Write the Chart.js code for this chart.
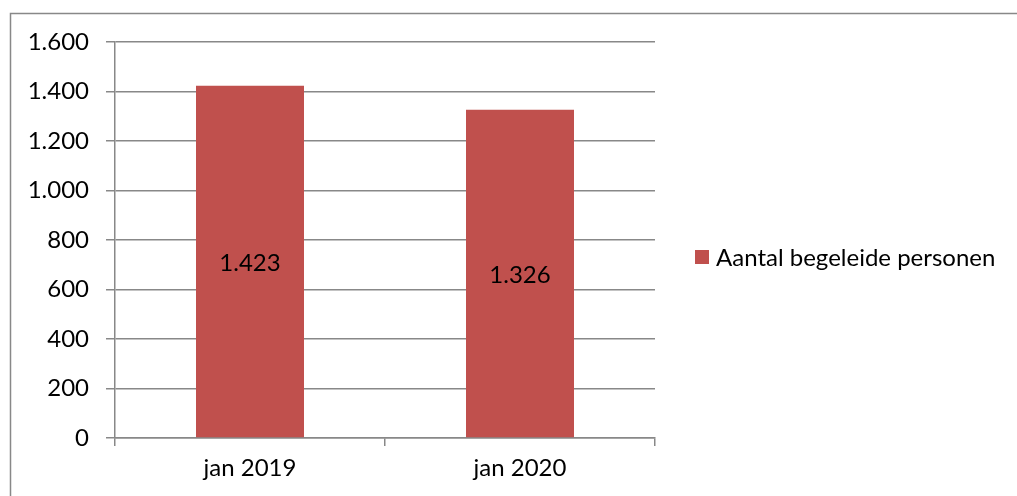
<!DOCTYPE html>
<html>
<head>
<meta charset="utf-8">
<script src="https://cdn.jsdelivr.net/npm/chart.js@4/dist/chart.umd.min.js"></script>
<style>
  html, body { margin: 0; padding: 0; background: #fff; }
  #wrap { position: relative; width: 1017px; height: 496px; }
</style>
</head>
<body>
<div id="wrap"><canvas id="chart" width="1017" height="496"></canvas></div>
<script>
// Data
const categories = ["jan 2019", "jan 2020"];
const seriesLabel = "Aantal begeleide personen";
const personen = [1423, 1326];
const yTicks = [0, 200, 400, 600, 800, 1000, 1200, 1400, 1600];

const FONT = "Lato, 'Open Sans', sans-serif";
const FONT_SIZE = 24;
const BAR_COLOR = "#C0504D";
const LINE_COLOR = "#888888";

// Dutch thousands separator: 1600 -> "1.600"
function fmt(v) {
    return String(v).replace(/\B(?=(\d{3})+(?!\d))/g, ".");
}

// Frame around the whole chart
const framePlugin = {
    id: "frame",
    beforeDraw(chart) {
        const ctx = chart.ctx;
        ctx.save();
        ctx.strokeStyle = LINE_COLOR;
        ctx.lineWidth = 1.5;
        ctx.strokeRect(10.5, 13.5, 1100, 600);
        ctx.restore();
    },
};

// Values written in the middle of each bar
const valueLabels = {
    id: "valueLabels",
    afterDatasetsDraw(chart) {
        const ctx = chart.ctx;
        const meta = chart.getDatasetMeta(0);
        ctx.save();
        ctx.font = FONT_SIZE + "px " + FONT;
        ctx.fillStyle = "#000";
        ctx.textAlign = "center";
        ctx.textBaseline = "middle";
        meta.data.forEach((bar, i) => {
            const v = chart.data.datasets[0].data[i];
            ctx.fillText(fmt(v), bar.x, (bar.y + bar.base) / 2 + 2);
        });
        ctx.restore();
    },
};

// Legend on the right
const sideLegend = {
    id: "sideLegend",
    afterDraw(chart) {
        const ctx = chart.ctx;
        const ds = chart.data.datasets[0];
        const x = chart.chartArea.right + 40;
        const y = 257;
        ctx.save();
        ctx.fillStyle = ds.backgroundColor;
        ctx.fillRect(x, y - 7, 14, 14);
        ctx.font = FONT_SIZE + "px " + FONT;
        ctx.fillStyle = "#000";
        ctx.textAlign = "left";
        ctx.textBaseline = "middle";
        ctx.fillText(ds.label, x + 21, y + 1);
        ctx.restore();
    },
};

const ctx = document.getElementById("chart").getContext("2d");
new Chart(ctx, {
    type: "bar",
    data: {
        labels: categories,
        datasets: [
            {
                label: seriesLabel,
                data: personen,
                backgroundColor: BAR_COLOR,
                borderWidth: 0,
                categoryPercentage: 1,
                barPercentage: 0.4,
            },
        ],
    },
    options: {
        responsive: false,
        animation: false,
        layout: { padding: { left: 0, top: 42, right: 362, bottom: 0 } },
        plugins: {
            legend: { display: false },
            tooltip: { enabled: false },
        },
        scales: {
            x: {
                grid: {
                    drawOnChartArea: false,
                    drawTicks: true,
                    tickLength: 8,
                    color: LINE_COLOR,
                    lineWidth: 1.5,
                },
                border: { display: true, color: LINE_COLOR, width: 1.5 },
                ticks: {
                    color: "#000",
                    font: { family: FONT, size: FONT_SIZE },
                    padding: 8,
                },
                afterFit(scale) {
                    scale.height = 58;
                },
            },
            y: {
                min: 0,
                max: 1600,
                afterBuildTicks(scale) {
                    scale.ticks = yTicks.map((v) => ({ value: v }));
                },
                grid: {
                    color: LINE_COLOR,
                    lineWidth: 1.5,
                    drawTicks: true,
                    tickLength: 9,
                },
                border: { display: true, color: LINE_COLOR, width: 1.5 },
                ticks: {
                    color: "#000",
                    font: { family: FONT, size: FONT_SIZE },
                    padding: 17,
                    callback: (v) => fmt(v),
                },
                afterFit(scale) {
                    scale.width = 115;
                },
            },
        },
    },
    plugins: [framePlugin, valueLabels, sideLegend],
});
</script>
</body>
</html>
